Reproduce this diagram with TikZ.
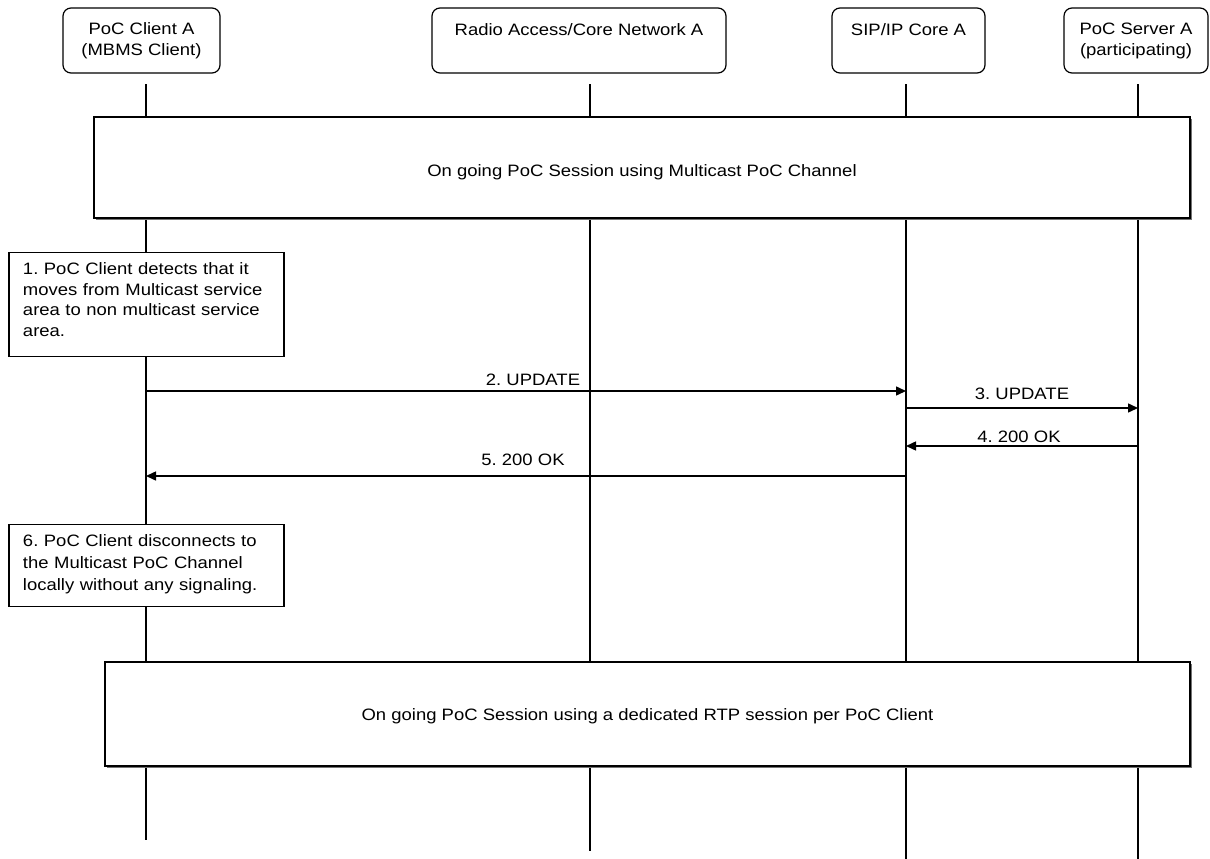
\documentclass[tikz,border=0pt]{standalone}
\usepackage{fontspec}
\setmainfont{Liberation Sans}[FakeStretch=1.12]
\usetikzlibrary{arrows.meta,shadows}
\begin{document}
\frenchspacing
\begin{tikzpicture}[x=1pt,y=-1pt,
  font=\fontsize{16.5}{21}\selectfont\frenchspacing,
  hdr/.style={draw, rounded corners=8pt, line width=1.2pt, align=center, inner sep=0pt, minimum height=65pt, fill=white},
  band/.style={draw, line width=1.2pt, fill=white, inner sep=0pt, drop shadow={shadow xshift=1.5pt, shadow yshift=-1.5pt, fill=black!55, opacity=1}},
  stepbox/.style={draw, line width=1.2pt, fill=white, align=left, text width=247pt, inner xsep=14pt, anchor=north},
  life/.style={line width=1.2pt},
  msg/.style={line width=1.5pt, -{Triangle[length=10pt,width=9pt]}},
  lbl/.style={inner sep=0pt}]
\useasboundingbox (0,0) rectangle (1210,859);

% lifeline end points
\coordinate (a1) at (146,84);  \coordinate (a2) at (146,840);
\coordinate (r1) at (590,84);  \coordinate (r2) at (590,851);
\coordinate (s1) at (906,84);  \coordinate (s2) at (906,859);
\coordinate (p1) at (1138,84); \coordinate (p2) at (1138,859);

\draw[life] (a1) -- (a2);
\draw[life] (r1) -- (r2);
\draw[life] (s1) -- (s2);
\draw[life] (p1) -- (p2);

% headers
\node[hdr, minimum width=157pt] (A) at (141.5,40.5) {PoC Client A\\(MBMS Client)};
\node[hdr, minimum width=294pt] (R) at (579,40.5) {Radio Access/Core Network A\\\mbox{}};
\node[hdr, minimum width=153pt] (S) at (908.5,40.5) {SIP/IP Core A\\\mbox{}};
\node[hdr, minimum width=144pt] (P) at (1136,40.5) {PoC Server A\\(participating)};

% bands
\node[band, minimum width=1096pt, minimum height=101pt] (b1) at (642,167.5) {\raisebox{-5pt}[\height][\depth]{On going PoC Session using Multicast PoC Channel}};
\node[band, minimum width=1085pt, minimum height=104pt] (b2) at (647.5,714) {\raisebox{-2pt}[\height][\depth]{On going PoC Session using a dedicated RTP session per PoC Client}};

% steps
\node[stepbox, font=\fontsize{16.5}{20.5}\selectfont, inner ysep=8pt, text height=14pt, text depth=74pt] (st1) at (146.5,252)
  {1. PoC Client detects that it\\moves from Multicast service\\area to non multicast service\\area.};
\node[stepbox, font=\fontsize{16.5}{22}\selectfont, inner ysep=9pt, text height=13pt, text depth=51pt] (st6) at (146.5,524)
  {6. PoC Client disconnects to\\the Multicast PoC Channel\\locally without any signaling.};

% messages
\coordinate (m2a) at (146,391);  \coordinate (m2b) at (906,391);
\coordinate (m3a) at (906,408);  \coordinate (m3b) at (1138,408);
\coordinate (m4a) at (1138,446); \coordinate (m4b) at (906,446);
\coordinate (m5a) at (906,476);  \coordinate (m5b) at (146,476);

\draw[msg] (m2a) -- (m2b);
\draw[msg] (m3a) -- (m3b);
\draw[msg] (m4a) -- (m4b);
\draw[msg] (m5a) -- (m5b);

\node[lbl] (l2) at (533,380) {2. UPDATE};
\node[lbl] (l3) at (1022,394) {3. UPDATE};
\node[lbl] (l4) at (1019,437) {4. 200 OK};
\node[lbl] (l5) at (523,460) {5. 200 OK};
\end{tikzpicture}
\end{document}
